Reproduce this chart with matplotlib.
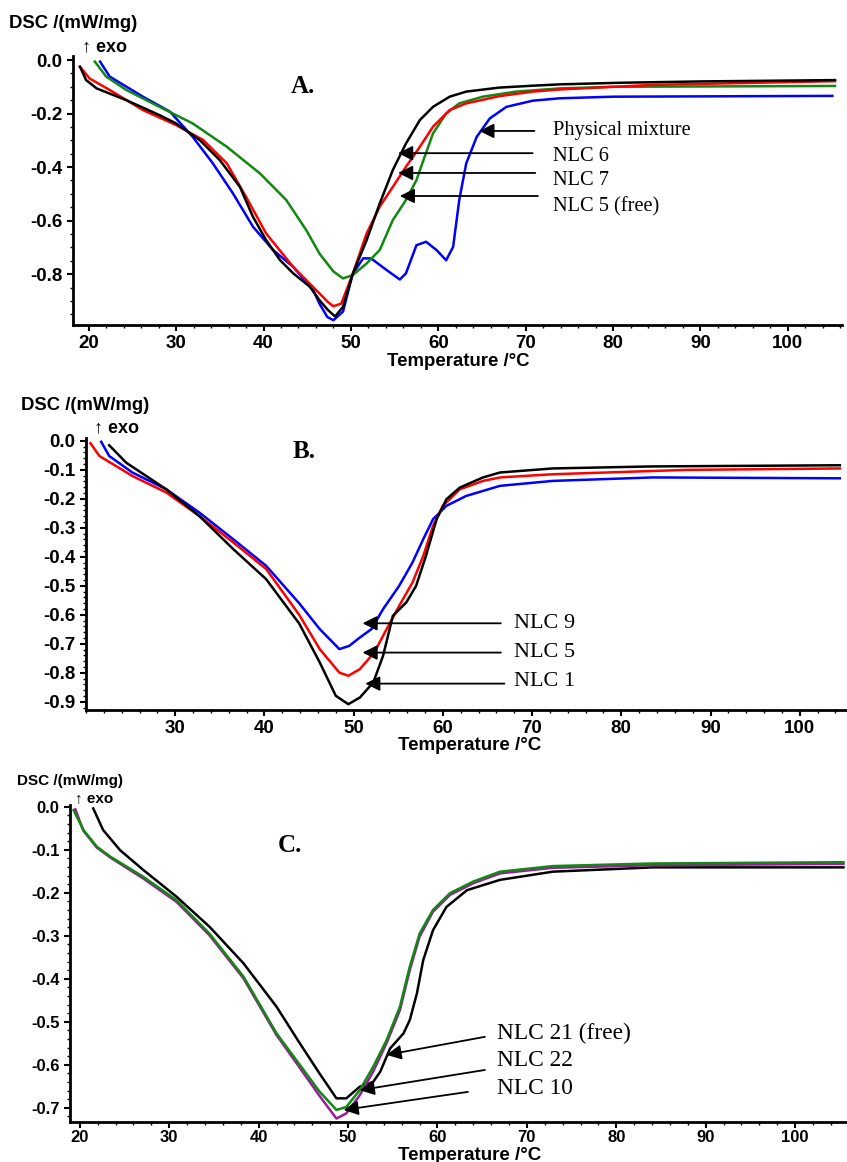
import numpy as np
import matplotlib.pyplot as plt
from matplotlib.ticker import MultipleLocator


# Panel A data (temperature / DSC)
a_black_x = [19.0, 19.7, 20.9, 24.3, 28.1, 30.0, 32.7, 35.0, 37.3, 38.8, 40.3, 41.9, 43.4, 45.3, 46.4, 47.4, 48.2, 49.1, 50.2, 51.8, 53.3, 54.8, 56.3, 57.9, 59.4, 61.3, 63.2, 67.0, 70.8, 73.9, 80.8, 90.0, 105.4]
a_black_y = [-0.025, -0.075, -0.106, -0.15, -0.206, -0.237, -0.299, -0.374, -0.474, -0.586, -0.673, -0.748, -0.797, -0.847, -0.897, -0.935, -0.958, -0.922, -0.80, -0.673, -0.536, -0.411, -0.312, -0.224, -0.175, -0.137, -0.118, -0.103, -0.096, -0.091, -0.085, -0.08, -0.075]

a_red_x = [19.0, 20.1, 22.4, 26.2, 30.0, 33.1, 35.8, 38.0, 40.3, 43.4, 46.4, 47.4, 48.0, 48.9, 50.2, 51.8, 53.3, 54.8, 56.3, 57.9, 59.4, 61.3, 63.2, 67.0, 70.8, 73.9, 84.5, 105.4]
a_red_y = [-0.025, -0.069, -0.112, -0.187, -0.243, -0.299, -0.386, -0.511, -0.648, -0.773, -0.872, -0.905, -0.92, -0.91, -0.80, -0.648, -0.548, -0.474, -0.399, -0.324, -0.249, -0.187, -0.162, -0.135, -0.118, -0.11, -0.093, -0.079]

a_green_x = [20.7, 22.0, 24.3, 28.1, 31.9, 35.8, 39.6, 42.6, 44.9, 46.4, 48.0, 49.1, 50.2, 51.8, 53.3, 54.8, 56.3, 57.5, 58.3, 59.4, 60.9, 62.4, 65.1, 68.9, 73.9, 80.0, 105.4]
a_green_y = [-0.006, -0.062, -0.112, -0.175, -0.237, -0.324, -0.424, -0.523, -0.636, -0.723, -0.79, -0.816, -0.804, -0.76, -0.71, -0.598, -0.523, -0.449, -0.374, -0.274, -0.2, -0.162, -0.137, -0.118, -0.106, -0.1, -0.097]

a_blue_x = [21.3, 22.4, 26.2, 29.3, 31.9, 34.2, 36.5, 38.8, 41.1, 43.4, 45.7, 46.4, 47.3, 48.0, 49.1, 50.2, 51.4, 52.3, 54.1, 55.6, 56.3, 57.5, 58.6, 59.8, 60.9, 61.7, 62.4, 63.2, 64.4, 65.9, 67.8, 70.8, 73.9, 80.0, 105.1]
a_blue_y = [-0.006, -0.062, -0.137, -0.193, -0.287, -0.386, -0.498, -0.623, -0.71, -0.773, -0.86, -0.91, -0.96, -0.972, -0.94, -0.80, -0.741, -0.741, -0.785, -0.82, -0.797, -0.692, -0.679, -0.71, -0.748, -0.698, -0.523, -0.386, -0.287, -0.218, -0.175, -0.152, -0.143, -0.137, -0.134]

a_labels = ['Physical mixture', 'NLC 6', 'NLC 7', 'NLC 5 (free)']
a_tip_x = [64.7, 55.4, 55.4, 55.6]
a_arrow_y = [-0.265, -0.348, -0.422, -0.508]
a_tail_x = [71.0, 70.8, 71.1, 71.4]
a_text_y = [-0.265, -0.359, -0.452, -0.55]

# Panel B data
b_black_x = [22.6, 24.5, 29.0, 32.7, 36.5, 40.2, 43.9, 46.2, 48.0, 49.4, 50.7, 52.2, 53.3, 54.4, 55.9, 57.0, 58.1, 59.3, 60.4, 61.9, 64.5, 66.4, 72.3, 83.5, 104.5]
b_black_y = [-0.015, -0.075, -0.167, -0.259, -0.373, -0.477, -0.63, -0.764, -0.879, -0.908, -0.885, -0.833, -0.741, -0.603, -0.557, -0.50, -0.397, -0.27, -0.201, -0.161, -0.126, -0.109, -0.095, -0.088, -0.084]

b_red_x = [20.5, 21.5, 25.2, 29.0, 32.7, 36.5, 40.2, 43.9, 46.2, 48.4, 49.4, 50.7, 52.3, 53.7, 55.1, 56.6, 57.8, 58.9, 60.0, 61.9, 64.5, 66.4, 72.3, 87.3, 104.5]
b_red_y = [-0.008, -0.052, -0.121, -0.178, -0.259, -0.35, -0.442, -0.60, -0.718, -0.799, -0.81, -0.787, -0.73, -0.649, -0.569, -0.488, -0.397, -0.293, -0.224, -0.167, -0.138, -0.126, -0.115, -0.10, -0.095]

b_blue_x = [21.7, 22.6, 25.2, 29.0, 32.7, 36.5, 40.2, 43.9, 46.2, 48.4, 49.5, 50.7, 52.0, 53.3, 55.1, 56.6, 57.8, 58.9, 60.4, 62.6, 66.4, 72.3, 83.5, 104.5]
b_blue_y = [-0.003, -0.052, -0.109, -0.167, -0.247, -0.339, -0.431, -0.56, -0.649, -0.718, -0.707, -0.678, -0.649, -0.58, -0.50, -0.419, -0.339, -0.27, -0.224, -0.19, -0.155, -0.138, -0.126, -0.129]

b_labels = ['NLC 9', 'NLC 5', 'NLC 1']
b_tip_x = [51.0, 51.0, 51.3]
b_arrow_y = [-0.629, -0.73, -0.837]
b_tail_x = [66.5, 66.5, 66.9]
b_text_y = [-0.629, -0.728, -0.83]

# Panel C data
c_black_x = [21.5, 22.6, 24.5, 27.1, 30.8, 34.5, 38.3, 42.0, 44.6, 46.8, 48.7, 49.8, 51.3, 52.8, 53.6, 54.7, 56.2, 56.9, 57.7, 58.4, 59.5, 61.0, 63.3, 67.0, 72.9, 84.1, 105.4]
c_black_y = [-0.004, -0.054, -0.101, -0.147, -0.209, -0.279, -0.364, -0.465, -0.55, -0.62, -0.678, -0.678, -0.651, -0.64, -0.616, -0.562, -0.527, -0.496, -0.434, -0.357, -0.287, -0.233, -0.194, -0.17, -0.151, -0.141, -0.141]

c_green_x = [19.3, 20.4, 21.9, 23.4, 27.1, 30.8, 34.5, 38.3, 42.0, 44.6, 46.8, 48.7, 49.8, 51.3, 52.8, 54.3, 55.8, 56.9, 58.0, 59.5, 61.4, 64.0, 67.0, 72.9, 84.1, 105.4]
c_green_y = [-0.008, -0.054, -0.093, -0.116, -0.163, -0.217, -0.295, -0.395, -0.527, -0.60, -0.662, -0.705, -0.698, -0.659, -0.605, -0.543, -0.465, -0.372, -0.295, -0.24, -0.201, -0.174, -0.151, -0.138, -0.132, -0.129]

c_purple_x = [19.5, 20.4, 21.9, 23.4, 27.1, 30.8, 34.5, 38.3, 42.0, 44.6, 46.8, 48.7, 49.8, 51.3, 52.8, 54.3, 55.8, 56.9, 58.0, 59.5, 61.4, 64.0, 67.0, 72.9, 84.1, 105.4]
c_purple_y = [-0.006, -0.056, -0.095, -0.118, -0.167, -0.221, -0.299, -0.399, -0.531, -0.607, -0.672, -0.725, -0.713, -0.671, -0.616, -0.55, -0.473, -0.38, -0.302, -0.244, -0.205, -0.178, -0.155, -0.142, -0.136, -0.133]

c_labels = ['NLC 21 (free)', 'NLC 22', 'NLC 10']
c_tip = [(54.3, -0.577), (51.3, -0.659), (49.5, -0.705)]
c_tail = [(65.3, -0.535), (65.3, -0.612), (63.4, -0.663)]
c_text = [(66.6, -0.527), (66.6, -0.591), (66.6, -0.655)]


sans = 'Liberation Sans'
serif = 'Liberation Serif'
arrowfont = ['Liberation Sans', 'DejaVu Sans']
W, H = 847, 1162

fig = plt.figure(figsize=(W / 100, H / 100), dpi=100)


def make_axes(left, right, top, bottom):
    ax = fig.add_axes([left / W, 1 - bottom / H, (right - left) / W, (bottom - top) / H])
    ax.spines['top'].set_visible(False)
    ax.spines['right'].set_visible(False)
    ax.spines['left'].set_linewidth(2)
    ax.spines['bottom'].set_linewidth(2)
    ax.tick_params(which='major', direction='out', length=4, width=1.5)
    ax.tick_params(which='minor', direction='out', length=2, width=1)
    ax.xaxis.set_minor_locator(MultipleLocator(2))
    return ax


def style_ticks(ax, size):
    for lab in ax.get_xticklabels() + ax.get_yticklabels():
        lab.set_fontfamily(sans)
        lab.set_fontweight('bold')
        lab.set_fontsize(size)


def arrow(ax, tip, tail):
    ax.annotate('', xy=tip, xytext=tail,
                arrowprops=dict(arrowstyle='-|>', color='black', lw=1.3,
                                mutation_scale=22, shrinkA=0, shrinkB=0))


# ---------- Panel A ----------
ax = make_axes(73, 842, 56, 325)
ax.plot(a_blue_x, a_blue_y, color='#0000ff', lw=1.8)
ax.plot(a_green_x, a_green_y, color='#118811', lw=1.8)
ax.plot(a_red_x, a_red_y, color='#ff0000', lw=1.8)
ax.plot(a_black_x, a_black_y, color='black', lw=1.8)
ax.set_xlim(18.2, 106.2)
ax.set_ylim(-0.99, 0.015)
ax.set_xticks(np.arange(20, 101, 10))
ax.set_yticks([0.0, -0.2, -0.4, -0.6, -0.8])
ax.set_yticklabels(['0.0', '-0.2', '-0.4', '-0.6', '-0.8'])
ax.yaxis.set_minor_locator(MultipleLocator(0.05))
style_ticks(ax, 13.5)
for i in range(len(a_labels)):
    arrow(ax, (a_tip_x[i], a_arrow_y[i]), (a_tail_x[i], a_arrow_y[i]))
    ax.text(73.1, a_text_y[i], a_labels[i], family=serif, fontsize=14.7, va='center')
ax.text(44.5, -0.10, 'A.', family=serif, fontsize=18, fontweight='bold', ha='center', va='center')
fig.text(9 / W, 1 - 24 / H, 'DSC /(mW/mg)', family=sans, fontweight='bold', fontsize=13.3, va='center')
fig.text(82 / W, 1 - 47 / H, '↑ exo', family=arrowfont, fontweight='bold', fontsize=13, va='center')
fig.text(458 / W, 1 - 361 / H, 'Temperature /°C', family=sans, fontweight='bold', fontsize=13.4, ha='center', va='center')

# ---------- Panel B ----------
ax = make_axes(86, 847, 438, 710)
ax.plot(b_blue_x, b_blue_y, color='#0000ff', lw=1.8)
ax.plot(b_red_x, b_red_y, color='#ff0000', lw=1.8)
ax.plot(b_black_x, b_black_y, color='black', lw=1.8)
ax.set_xlim(20.0, 105.3)
ax.set_ylim(-0.928, 0.01)
ax.set_xticks(np.arange(30, 101, 10))
yt = [0.0, -0.1, -0.2, -0.3, -0.4, -0.5, -0.6, -0.7, -0.8, -0.9]
ax.set_yticks(yt)
ax.set_yticklabels(['%.1f' % v for v in yt])
ax.yaxis.set_minor_locator(MultipleLocator(0.02))
style_ticks(ax, 13.5)
for i in range(len(b_labels)):
    arrow(ax, (b_tip_x[i], b_arrow_y[i]), (b_tail_x[i], b_arrow_y[i]))
    ax.text(68.0, b_text_y[i], b_labels[i], family=serif, fontsize=16, va='center')
ax.text(44.5, -0.038, 'B.', family=serif, fontsize=18, fontweight='bold', ha='center', va='center')
fig.text(21 / W, 1 - 405 / H, 'DSC /(mW/mg)', family=sans, fontweight='bold', fontsize=13.3, va='center')
fig.text(94 / W, 1 - 428 / H, '↑ exo', family=arrowfont, fontweight='bold', fontsize=13, va='center')
fig.text(470 / W, 1 - 746 / H, 'Temperature /°C', family=sans, fontweight='bold', fontsize=13.5, ha='center', va='center')

# ---------- Panel C ----------
ax = make_axes(70, 847, 805, 1122)
ax.plot(c_black_x, c_black_y, color='black', lw=1.8)
ax.plot(c_purple_x, c_purple_y, color='#9b1b9b', lw=1.8)
ax.plot(c_green_x, c_green_y, color='#118811', lw=1.8)
ax.set_xlim(18.9, 105.8)
ax.set_ylim(-0.733, 0.004)
ax.set_xticks(np.arange(20, 101, 10))
yt = [0.0, -0.1, -0.2, -0.3, -0.4, -0.5, -0.6, -0.7]
ax.set_yticks(yt)
ax.set_yticklabels(['%.1f' % v for v in yt])
ax.yaxis.set_minor_locator(MultipleLocator(0.02))
ax.tick_params(axis='x', which='major', pad=1.5)
style_ticks(ax, 12)
for i in range(len(c_labels)):
    arrow(ax, c_tip[i], c_tail[i])
    ax.text(c_text[i][0], c_text[i][1], c_labels[i], family=serif, fontsize=16.8, va='center')
ax.text(43.5, -0.089, 'C.', family=serif, fontsize=18, fontweight='bold', ha='center', va='center')
fig.text(17 / W, 1 - 781 / H, 'DSC /(mW/mg)', family=sans, fontweight='bold', fontsize=11, va='center')
fig.text(75 / W, 1 - 798 / H, '↑ exo', family=arrowfont, fontweight='bold', fontsize=11, va='center')
fig.text(470 / W, 1 - 1155 / H, 'Temperature /°C', family=sans, fontweight='bold', fontsize=13.5, ha='center', va='center')

plt.savefig('out.png', dpi=100)
